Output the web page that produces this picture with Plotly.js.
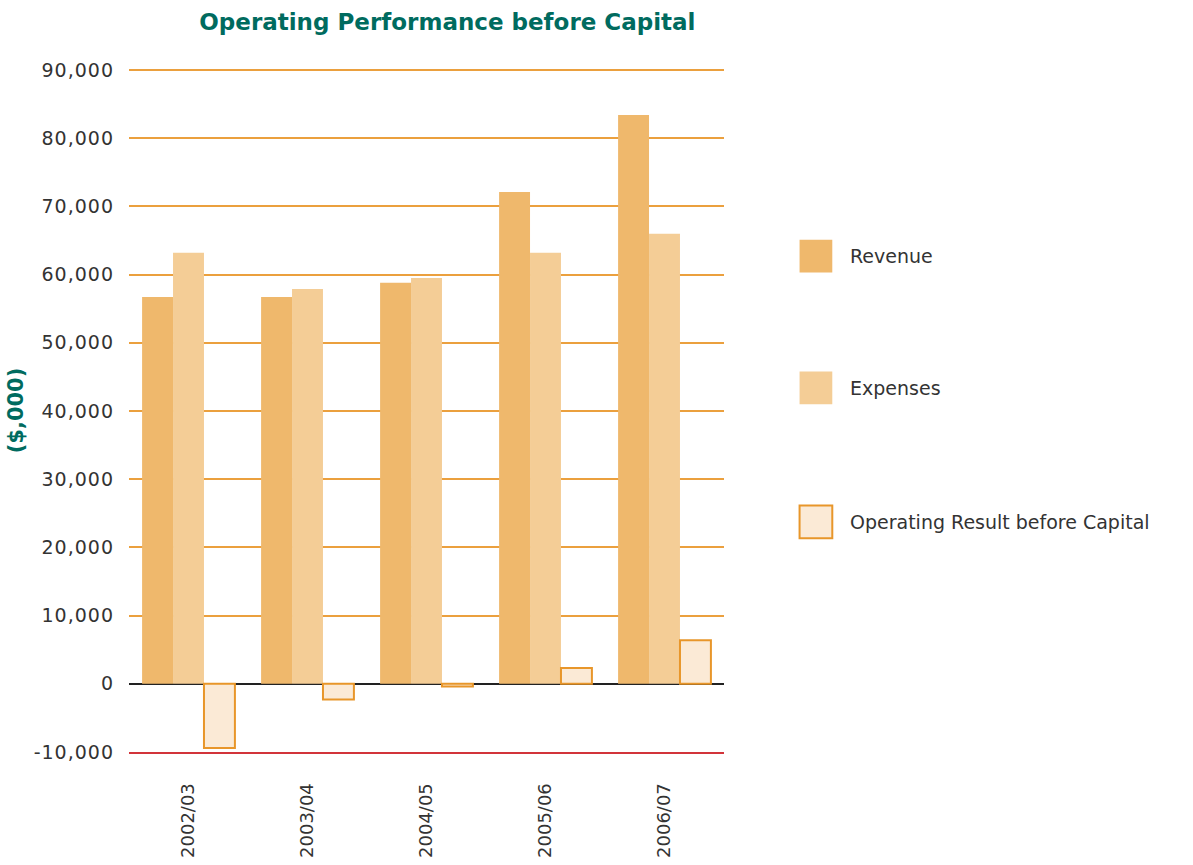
<!DOCTYPE html>
<html>
<head>
<meta charset="utf-8">
<script src="https://cdn.plot.ly/plotly-3.0.1.min.js"></script>
<style>
  body { margin: 0; background: #fff; }
  #chart { width: 1193px; height: 865px; }
  .ytick text { letter-spacing: 1px; }
</style>
</head>
<body>
<div id="chart"></div>
<script>
// years and values ($,000)
var years = ["2002/03", "2003/04", "2004/05", "2005/06", "2006/07"];
var revenue = [56700, 56700, 58800, 72100, 83400];
var expenses = [63200, 57900, 59500, 63200, 66000];
var operating = [-9400, -2300, -400, 2300, 6400];

var seriesNames = ["Revenue", "Expenses", "Operating Result before Capital"];
var fills = ["#EFB86C", "#F4CD96", "#FBEAD6"];
var borders = ["#EFB86C", "#F4CD96", "#E8962A"];
var yTicks = [-10000, 0, 10000, 20000, 30000, 40000, 50000, 60000, 70000, 80000, 90000];
var yTickText = ["-10,000", "0", "10,000", "20,000", "30,000", "40,000", "50,000", "60,000", "70,000", "80,000", "90,000"];

var font = "'DejaVu Sans', sans-serif";
var allSeries = [revenue, expenses, operating];

var traces = [];
for (var i = 0; i < allSeries.length; i++) {
  traces.push({
    type: "bar",
    name: seriesNames[i],
    x: years,
    y: allSeries[i],
    marker: {
      color: fills[i],
      line: {color: borders[i], width: i == 2 ? 2 : 0}
    },
    showlegend: false
  });
}

// legend drawn by hand so the swatches are big like the original
var shapes = [];
var annotations = [];
var legendY = [0.726, 0.533, 0.337];
for (var k = 0; k < seriesNames.length; k++) {
  shapes.push({
    type: "rect", xref: "paper", yref: "paper",
    x0: 1.127, x1: 1.182,
    y0: legendY[k] - 0.024, y1: legendY[k] + 0.024,
    fillcolor: fills[k],
    line: {color: borders[k], width: k == 2 ? 2 : 0}
  });
  annotations.push({
    xref: "paper", yref: "paper",
    x: 1.208, y: legendY[k],
    xanchor: "left", yanchor: "middle",
    text: seriesNames[k], showarrow: false,
    font: {family: font, size: 19, color: "#333"}
  });
}

var layout = {
  width: 1193,
  height: 865,
  margin: {l: 129, r: 469, t: 69, b: 113},
  paper_bgcolor: "#fff",
  plot_bgcolor: "#fff",
  barmode: "group",
  bargap: 0.22,
  bargroupgap: 0,
  title: {
    text: "<b>Operating Performance before Capital</b>",
    font: {family: font, size: 23, color: "#006B5F"},
    x: 0.375, xanchor: "center",
    y: 0.975, yanchor: "middle"
  },
  xaxis: {
    type: "category",
    tickangle: -90,
    tickfont: {family: font, size: 18, color: "#333"},
    showline: true,
    linecolor: "#D2343A",
    linewidth: 2,
    ticks: "",
    ticklabelstandoff: 22,
    showgrid: false
  },
  yaxis: {
    range: [-10000, 90150],
    tickvals: yTicks,
    ticktext: yTickText,
    tickfont: {family: font, size: 19, color: "#333"},
    gridcolor: "#EBA03E",
    gridwidth: 2,
    zeroline: true,
    zerolinecolor: "#222",
    zerolinewidth: 2,
    ticklabelstandoff: 14,
    title: {
      text: "<b>($,000)</b>",
      font: {family: font, size: 21, color: "#006B5F"},
      standoff: 4
    }
  },
  shapes: shapes,
  annotations: annotations
};

Plotly.newPlot("chart", traces, layout, {displayModeBar: false});
</script>
</body>
</html>
